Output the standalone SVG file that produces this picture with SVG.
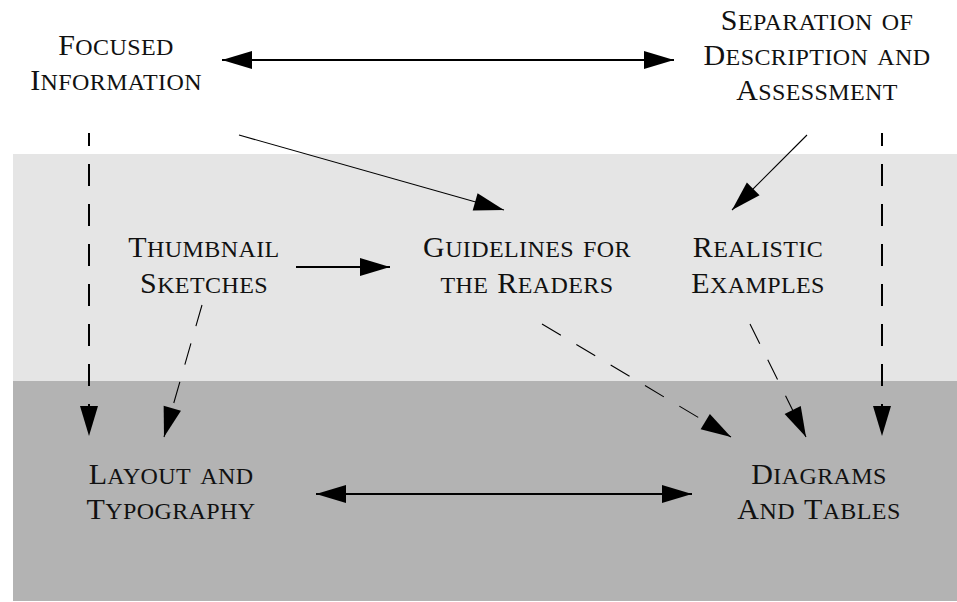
<svg xmlns="http://www.w3.org/2000/svg" width="957" height="602" viewBox="0 0 957 602">
<defs>
<style>
text{font-family:"Liberation Serif","Times New Roman",serif;font-size:30px;font-variant:small-caps;fill:#111;text-anchor:middle;letter-spacing:0.4px}
.s{font-size:34.5px}
.thick{stroke:#000;stroke-width:2;fill:none}
.thin{stroke:#000;stroke-width:1.1;fill:none}
.dash{stroke-dasharray:22 18}
</style>
<marker id="ah" markerUnits="userSpaceOnUse" markerWidth="30" markerHeight="18" refX="30" refY="9" orient="auto-start-reverse" overflow="visible">
<path d="M0,0 L30,9 L0,18 z" fill="#000"/>
</marker>
</defs>
<rect x="0" y="0" width="957" height="602" fill="#fff"/>
<rect x="13" y="154" width="944" height="227" fill="#e5e5e5"/>
<rect x="13" y="381" width="944" height="220" fill="#b3b3b3"/>

<g id="connectors">
<line class="thick" x1="222" y1="60" x2="674" y2="60" marker-start="url(#ah)" marker-end="url(#ah)"/>
<line class="thick" x1="316" y1="494" x2="692" y2="494" marker-start="url(#ah)" marker-end="url(#ah)"/>
<line class="thick" x1="296" y1="267" x2="390" y2="267" marker-end="url(#ah)"/>
<line class="thin" x1="239" y1="135" x2="504" y2="210" marker-end="url(#ah)"/>
<line class="thin" x1="807" y1="135" x2="732" y2="210" marker-end="url(#ah)"/>
<line class="thick dash" x1="89" y1="133" x2="89" y2="436" stroke-dashoffset="9" marker-end="url(#ah)"/>
<line class="thick dash" x1="882" y1="133" x2="882" y2="436" stroke-dashoffset="9" marker-end="url(#ah)"/>
<line class="thin dash" x1="202" y1="305" x2="164" y2="437" marker-end="url(#ah)"/>
<line class="thin dash" x1="542" y1="324" x2="731" y2="437" marker-end="url(#ah)"/>
<line class="thin dash" x1="750" y1="324" x2="806" y2="437" marker-end="url(#ah)"/>
</g>

<g id="focused">
<text x="116" y="55">F<tspan class="s">ocused</tspan></text>
<text x="116" y="90">I<tspan class="s">nformation</tspan></text>
</g>
<g id="separation">
<text x="817" y="30">S<tspan class="s">eparation of</tspan></text>
<text x="817" y="65">D<tspan class="s">escription and</tspan></text>
<text x="817" y="100">A<tspan class="s">ssessment</tspan></text>
</g>
<g id="thumbnail">
<text x="204" y="257">T<tspan class="s">humbnail</tspan></text>
<text x="204" y="293">S<tspan class="s">ketches</tspan></text>
</g>
<g id="guidelines">
<text x="527" y="257">G<tspan class="s">uidelines for</tspan></text>
<text x="527" y="293"><tspan class="s">the </tspan>R<tspan class="s">eaders</tspan></text>
</g>
<g id="realistic">
<text x="758" y="257">R<tspan class="s">ealistic</tspan></text>
<text x="758" y="293">E<tspan class="s">xamples</tspan></text>
</g>
<g id="layout">
<text x="171" y="484">L<tspan class="s">ayout and</tspan></text>
<text x="171" y="519">T<tspan class="s">ypography</tspan></text>
</g>
<g id="diagrams">
<text x="819" y="484">D<tspan class="s">iagrams</tspan></text>
<text x="819" y="519">A<tspan class="s">nd </tspan>T<tspan class="s">ables</tspan></text>
</g>
</svg>
